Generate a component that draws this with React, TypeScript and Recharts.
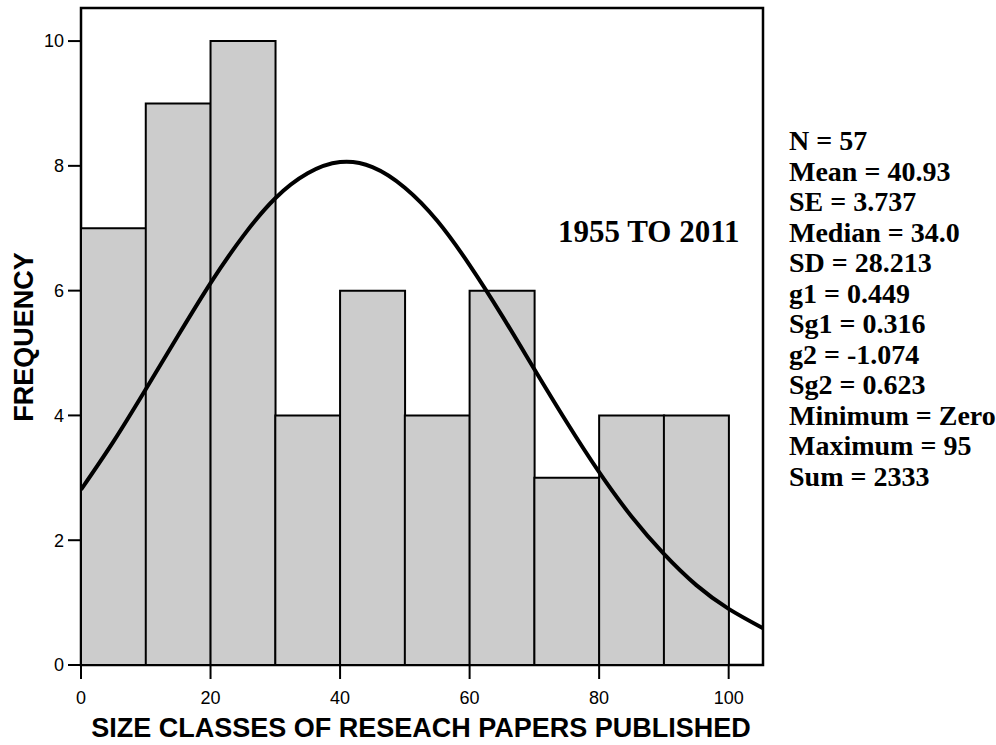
import React from 'react';
import { ComposedChart, Bar, Line, XAxis, YAxis, ReferenceArea } from 'recharts';

// histogram classes (midpoints) and counts
const classMidpoints = [5, 15, 25, 35, 45, 55, 65, 75, 85, 95];
const frequencies = [7, 9, 10, 4, 6, 4, 6, 3, 4, 4];

// fitted normal curve
const curveX = [0, 5, 10, 15, 20, 25, 30, 35, 40, 45, 50, 55, 60, 65, 70, 75, 80, 85, 90, 95, 100, 105.3];
const curveY = [2.81, 3.58, 4.42, 5.28, 6.12, 6.87, 7.48, 7.88, 8.06, 7.98, 7.65, 7.12, 6.41, 5.6, 4.74, 3.89, 3.09, 2.38, 1.78, 1.28, 0.9, 0.59];

const xTicks = [0, 20, 40, 60, 80, 100];
const yTicks = [0, 2, 4, 6, 8, 10];

const statLines = [
  'N = 57',
  'Mean = 40.93',
  'SE = 3.737',
  'Median = 34.0',
  'SD = 28.213',
  'g1 = 0.449',
  'Sg1 = 0.316',
  'g2 = -1.074',
  'Sg2 = 0.623',
  'Minimum = Zero',
  'Maximum = 95',
  'Sum = 2333',
];
const periodLabel = '1955 TO 2011';
const xTitle = 'SIZE CLASSES OF RESEACH PAPERS PUBLISHED';
const yTitle = 'FREQUENCY';

const X_MAX = 105.3;
const Y_MAX = 10.53;

const histData = classMidpoints.map((x, i) => ({ x, freq: frequencies[i] }));
const curveData = curveX.map((x, i) => ({ x, y: curveY[i] }));

const SANS = '"Liberation Sans", Arial, sans-serif';
const SERIF = '"Liberation Serif", "Times New Roman", serif';

const tickStyle = { fill: '#000', fontSize: 18, fontFamily: SANS };
const lineStyle = { stroke: '#000', strokeWidth: 2 };

const App: React.FC = () => {
  return (
    <div style={{ position: 'absolute', left: 0, top: 0, width: 996, height: 745, background: '#fff' }}>
      <ComposedChart
        width={996}
        height={745}
        data={histData}
        margin={{ top: 8, right: 233, bottom: 0, left: 0 }}
        barCategoryGap={0}
        barGap={0}
      >
        <XAxis
          dataKey="x"
          type="number"
          domain={[0, X_MAX]}
          ticks={xTicks}
          allowDataOverflow
          height={80}
          tickSize={14}
          tickMargin={12}
          tick={tickStyle}
          axisLine={lineStyle}
          tickLine={lineStyle}
        />
        <XAxis xAxisId="curve" dataKey="x" type="number" domain={[0, X_MAX]} allowDataOverflow hide />
        <YAxis
          type="number"
          domain={[0, Y_MAX]}
          ticks={yTicks}
          allowDataOverflow
          width={81}
          tickSize={13}
          tickMargin={4}
          tick={tickStyle}
          axisLine={lineStyle}
          tickLine={lineStyle}
        />
        <Bar dataKey="freq" fill="#cccccc" stroke="#000" strokeWidth={2} isAnimationActive={false} />
        <Line
          xAxisId="curve"
          data={curveData}
          dataKey="y"
          type="natural"
          stroke="#000"
          strokeWidth={4}
          dot={false}
          isAnimationActive={false}
        />
        <ReferenceArea x1={0} x2={X_MAX} y1={0} y2={Y_MAX} fill="none" stroke="#000" strokeWidth={2.5} ifOverflow="visible" />
      </ComposedChart>

      <svg width={996} height={745} style={{ position: 'absolute', left: 0, top: 0, pointerEvents: 'none' }}>
        <text x={-337} y={33} transform="rotate(-90)" textAnchor="middle" fontFamily={SANS} fontWeight="bold" fontSize={27}>
          {yTitle}
        </text>
        <text x={421} y={737} textAnchor="middle" fontFamily={SANS} fontWeight="bold" fontSize={27}>
          {xTitle}
        </text>
        <text x={558} y={242} fontFamily={SERIF} fontWeight="bold" fontSize={31}>
          {periodLabel}
        </text>
        {statLines.map((s, i) => (
          <text key={s} x={789} y={150 + i * 30.5} fontFamily={SERIF} fontWeight="bold" fontSize={28}>
            {s}
          </text>
        ))}
      </svg>
    </div>
  );
};

export default App;
